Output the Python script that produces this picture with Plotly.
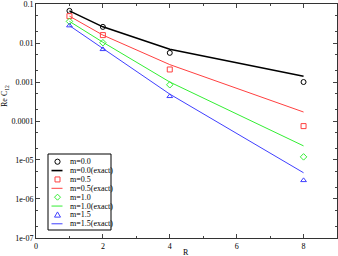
import plotly.graph_objects as go

R = [1, 2, 4, 8]
m00 = [0.067, 0.026, 0.0056, 0.00100]
m00_exact = [0.067, 0.026, 0.0069, 0.00140]
m05 = [0.049, 0.016, 0.0021, 7.4e-5]
m05_exact = [0.049, 0.016, 0.0028, 1.7e-4]
m10 = [0.036, 0.0102, 8.5e-4, 1.2e-5]
m10_exact = [0.036, 0.0105, 1.0e-3, 2.3e-5]
m15 = [0.028, 0.0069, 4.3e-4, 3.0e-6]
m15_exact = [0.028, 0.0072, 4.9e-4, 4.7e-6]

yticks = [0.1, 0.01, 0.001, 0.0001, 1e-5, 1e-6, 1e-7]
ytick_labels = ["0.1", "0.01", "0.001", "0.0001", "1e-05", "1e-06", "1e-07"]

series = [
    ("m=0.0", m00, m00_exact, "black", "circle-open", 1.6),
    ("m=0.5", m05, m05_exact, "#ff4040", "square-open", 1.0),
    ("m=1.0", m10, m10_exact, "#33ee33", "diamond-open", 1.0),
    ("m=1.5", m15, m15_exact, "#4040ff", "triangle-up-open", 1.0),
]

W, H = 338, 256
L, Rm, T, B = 36, 1, 4, 18


def px(x):
    return (x - L) / (W - L - Rm)


def py(y):
    return (H - B - y) / (H - T - B)


fig = go.Figure()
for name, pts, ex, col, sym, lw in series:
    fig.add_trace(go.Scatter(x=R, y=pts, mode="markers", name=name, showlegend=False,
                             marker=dict(symbol=sym, size=5, color=col, line=dict(width=1, color=col))))
    fig.add_trace(go.Scatter(x=R, y=ex, mode="lines", name=name + "(exact)", showlegend=False,
                             line=dict(color=col, width=lw)))

font = "Liberation Serif, Times New Roman, serif"

# manual legend (compact rows like the reference)
leg_x0, leg_x1, leg_y0, leg_y1 = 48, 111, 154, 230
row0, row_step = 161.7, 8.87
sym_x, line_x0, line_x1, text_x = 57.5, 51.5, 62.5, 68
shapes = [dict(type="rect", xref="paper", yref="paper", x0=px(leg_x0), x1=px(leg_x1),
               y0=py(leg_y1), y1=py(leg_y0), line=dict(color="black", width=1), fillcolor="white")]
marker_paths = {
    "square-open": "M-2.5,-2.5 L2.5,-2.5 L2.5,2.5 L-2.5,2.5 Z",
    "diamond-open": "M0,-3 L3,0 L0,3 L-3,0 Z",
    "triangle-up-open": "M0,3 L3,-2.2 L-3,-2.2 Z",
}
annotations = []
i = 0
for name, pts, ex, col, sym, lw in series:
    yy = row0 + row_step * i
    common = dict(xref="paper", yref="paper", xsizemode="pixel", ysizemode="pixel",
                  xanchor=px(sym_x), yanchor=py(yy), line=dict(color=col, width=1))
    if sym == "circle-open":
        shapes.append(dict(type="circle", x0=-2.6, x1=2.6, y0=-2.6, y1=2.6, **common))
    else:
        shapes.append(dict(type="path", path=marker_paths[sym], **common))
    annotations.append(dict(x=px(text_x), y=py(yy), xref="paper", yref="paper", text=name,
                            showarrow=False, xanchor="left", yanchor="middle",
                            font=dict(size=8, color="black")))
    i += 1
    yy = row0 + row_step * i
    shapes.append(dict(type="line", xref="paper", yref="paper", x0=px(line_x0), x1=px(line_x1),
                       y0=py(yy), y1=py(yy), line=dict(color=col, width=lw)))
    annotations.append(dict(x=px(text_x), y=py(yy), xref="paper", yref="paper",
                            text=name + "(exact)", showarrow=False, xanchor="left",
                            yanchor="middle", font=dict(size=8, color="black")))
    i += 1

# axis titles
annotations.append(dict(x=px(185.5), y=0, xref="paper", yref="paper", text="R",
                        showarrow=False, xanchor="center", yanchor="top", yshift=-8,
                        font=dict(size=8, color="black")))
annotations.append(dict(x=0, y=py(123), xref="paper", yref="paper", text="Re C<sub>12</sub>",
                        showarrow=False, textangle=-90, xanchor="center", yanchor="middle",
                        xshift=-31, yshift=27, font=dict(size=8, color="black")))

fig.update_layout(
    width=W, height=H,
    margin=dict(l=L, r=Rm, t=T, b=B, autoexpand=False),
    paper_bgcolor="white", plot_bgcolor="white",
    font=dict(family=font, size=8, color="black"),
    showlegend=False,
    shapes=shapes,
    annotations=annotations,
    xaxis=dict(range=[0, 9], tickvals=[0, 2, 4, 6, 8], ticks="inside", ticklen=4,
               minor=dict(tickvals=[1, 3, 5, 7, 9], ticks="inside", ticklen=2),
               showline=True, linecolor="#333", linewidth=1, mirror="ticks",
               showgrid=False, zeroline=False, automargin=False, ticklabeloverflow="allow"),
    yaxis=dict(type="log", range=[-7.002, -0.998], tickvals=yticks, ticktext=ytick_labels,
               ticks="inside", ticklen=4,
               minor=dict(ticks="inside", ticklen=2, showgrid=False),
               showline=True, linecolor="#333", linewidth=1, mirror="ticks",
               showgrid=False, zeroline=False, automargin=False, ticklabeloverflow="allow"),
)

fig.write_html("out.html", config={"displayModeBar": False},
               post_script="document.body.style.margin='0';")
